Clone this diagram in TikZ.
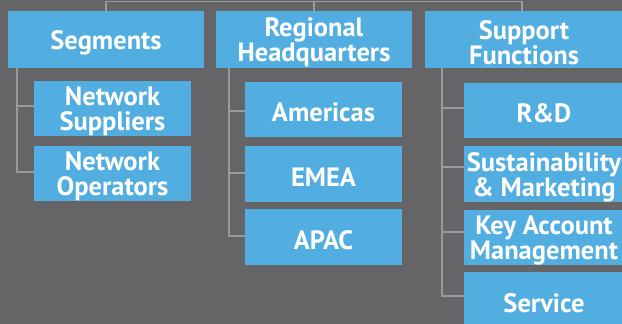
\documentclass[tikz,border=0pt]{standalone}
\usepackage{fontspec}
\setmainfont{PT Sans}
\begin{document}
\begin{tikzpicture}[x=1pt,y=-1pt,
  lab/.style={text=white, font=\bfseries\fontsize{26.5}{25}\selectfont,
    align=center, inner sep=0pt, yshift=-3pt},
  box/.style={fill=boxblue, inner sep=0pt, minimum width=157pt, minimum height=55pt,
    label={[lab]center:#1}},
  headbox/.style={box=#1, minimum width=196pt, minimum height=57pt},
  tree/.style={draw=linegray, line width=1.4pt}]
\definecolor{bg}{HTML}{656567}
\definecolor{boxblue}{HTML}{52AEE0}
\definecolor{linegray}{HTML}{9A9A9C}
\fill[bg] (0,0) rectangle (622,324);
\useasboundingbox (0,0) rectangle (622,324);
\begin{scope}
\clip (0,0) rectangle (622,324);
% heads
\node[headbox={Segments}] (seg) at (106,39.5) {};
\node[headbox={Regional\\Headquarters}] (reg) at (314,39.5) {};
\node[headbox={Support\\Functions}, minimum width=198pt] (sup) at (524,39.5) {};
% segments children
\node[box={Network\\Suppliers}] (ns) at (112.5,108.5) {};
\node[box={Network\\Operators}] (no) at (112.5,173.5) {};
% regional children
\node[box={Americas}] (am) at (323.5,109.5) {};
\node[box={EMEA}, minimum height=56pt] (emea) at (323.5,174) {};
\node[box={APAC}, minimum height=56pt] (apac) at (323.5,237) {};
% support children
\node[box={R\&D}, minimum width=160pt] (rd) at (544,110.5) {};
\node[box={Sustainability\\\&~Marketing}, minimum width=160pt, minimum height=56pt] (sust) at (544,174) {};
\node[box={Key Account\\Management}, minimum width=160pt] (key) at (544,237.5) {};
\node[box={Service}, minimum width=160pt, minimum height=56pt] (serv) at (544,300) {};
% top connector
\coordinate (tl) at (106,1.5);
\coordinate (tr) at (522,1.5);
\draw[tree] (seg.north) -- (tl) -- (tr) -- (tr |- sup.north);
\draw[tree] (reg.north) -- (reg.north |- tl);
% spines
\coordinate (s1) at (17,68);
\coordinate (s2) at (229,68);
\coordinate (s3) at (442,68);
\draw[tree] (s1) |- ([yshift=2.5pt]ns.west);
\draw[tree] (s1) |- ([yshift=1.5pt]no.west);
\draw[tree] (s2) |- ([yshift=-1.5pt]am.west);
\draw[tree] (s2) |- ([yshift=1pt]emea.west);
\draw[tree] (s2) |- ([yshift=1pt]apac.west);
\draw[tree] (s3) |- ([yshift=2.5pt]rd.west);
\draw[tree] (s3) |- ([yshift=7pt]sust.west);
\draw[tree] (s3) |- ([yshift=5.5pt]key.west);
\draw[tree] (s3) |- ([yshift=4pt]serv.west);
\end{scope}
\end{tikzpicture}
\end{document}
